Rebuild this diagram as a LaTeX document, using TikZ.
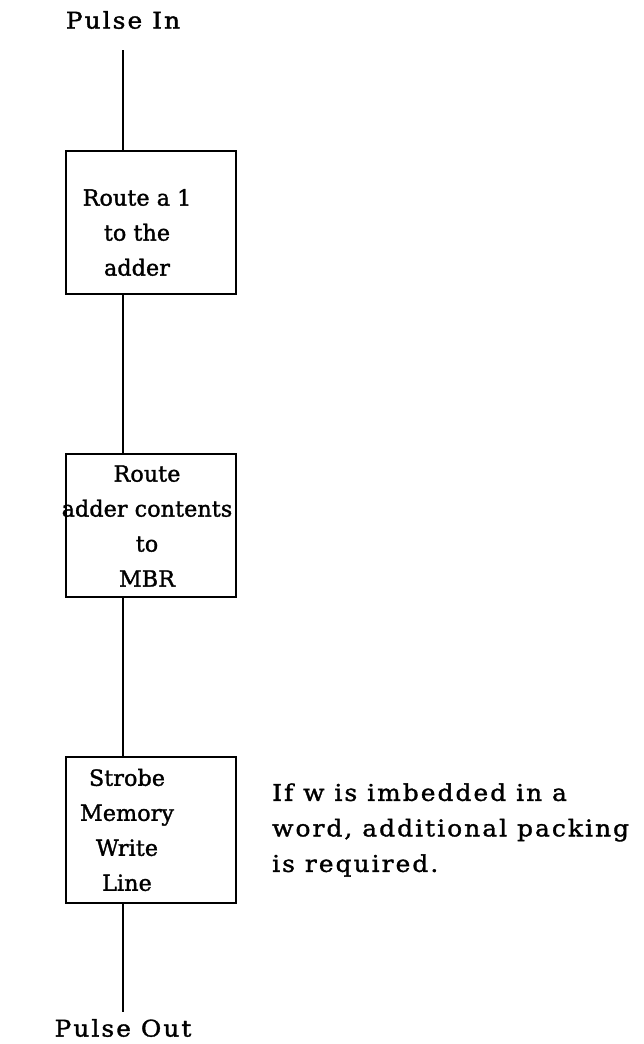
\documentclass[tikz,border=0pt]{standalone}
\usepackage{fontspec}
\setmainfont{DejaVu Serif}
\newfontfamily\boxfont{DejaVu Serif}[LetterSpace=0.5,FakeBold=1.5]
\newfontfamily\outfont{DejaVu Serif}[LetterSpace=9,FakeStretch=1.08,FakeBold=1.5]
\begin{document}
\begin{tikzpicture}[x=1pt,y=-1pt,
  box/.style={draw,line width=2.2pt,minimum width=170pt,minimum height=143pt,inner sep=0pt},
  txt/.style={align=center,inner sep=0pt,font=\boxfont\fontsize{22.2}{35}\selectfont},
  outtxt/.style={align=center,inner sep=0pt,font=\outfont\fontsize{23}{35.5}\selectfont},
  conn/.style={line width=2.6pt}]
\useasboundingbox (0,0) rectangle (643,1044);
% terminals
\node[outtxt] (pin) at (123,20) {Pulse In};
\node[outtxt] (pout) at (123,1028) {Pulse Out};
\coordinate (top) at (123,50);
\coordinate (bot) at (123,1012);
% boxes
\node[box] (b1) at (151,222.5) {};
\node[box] (b2) at (151,525.5) {};
\node[box,minimum height=146pt] (b3) at (151,830) {};
% box texts
\node[txt] (t1) at (137,232.5) {Route a 1\\to the\\adder};
\node[txt] (t2) at (147,526) {Route\\adder contents\\to\\MBR};
\node[txt] (t3) at (127,830) {Strobe\\Memory\\Write\\Line};
% note
\node[outtxt,align=left,anchor=west] (note) at (272,830) {If w is imbedded in a\\word, additional packing\\is required.};
% connectors
\draw[conn] (top) -- (top |- b1.north);
\draw[conn] (top |- b1.south) -- (top |- b2.north);
\draw[conn] (top |- b2.south) -- (top |- b3.north);
\draw[conn] (top |- b3.south) -- (bot);
\end{tikzpicture}
\end{document}
